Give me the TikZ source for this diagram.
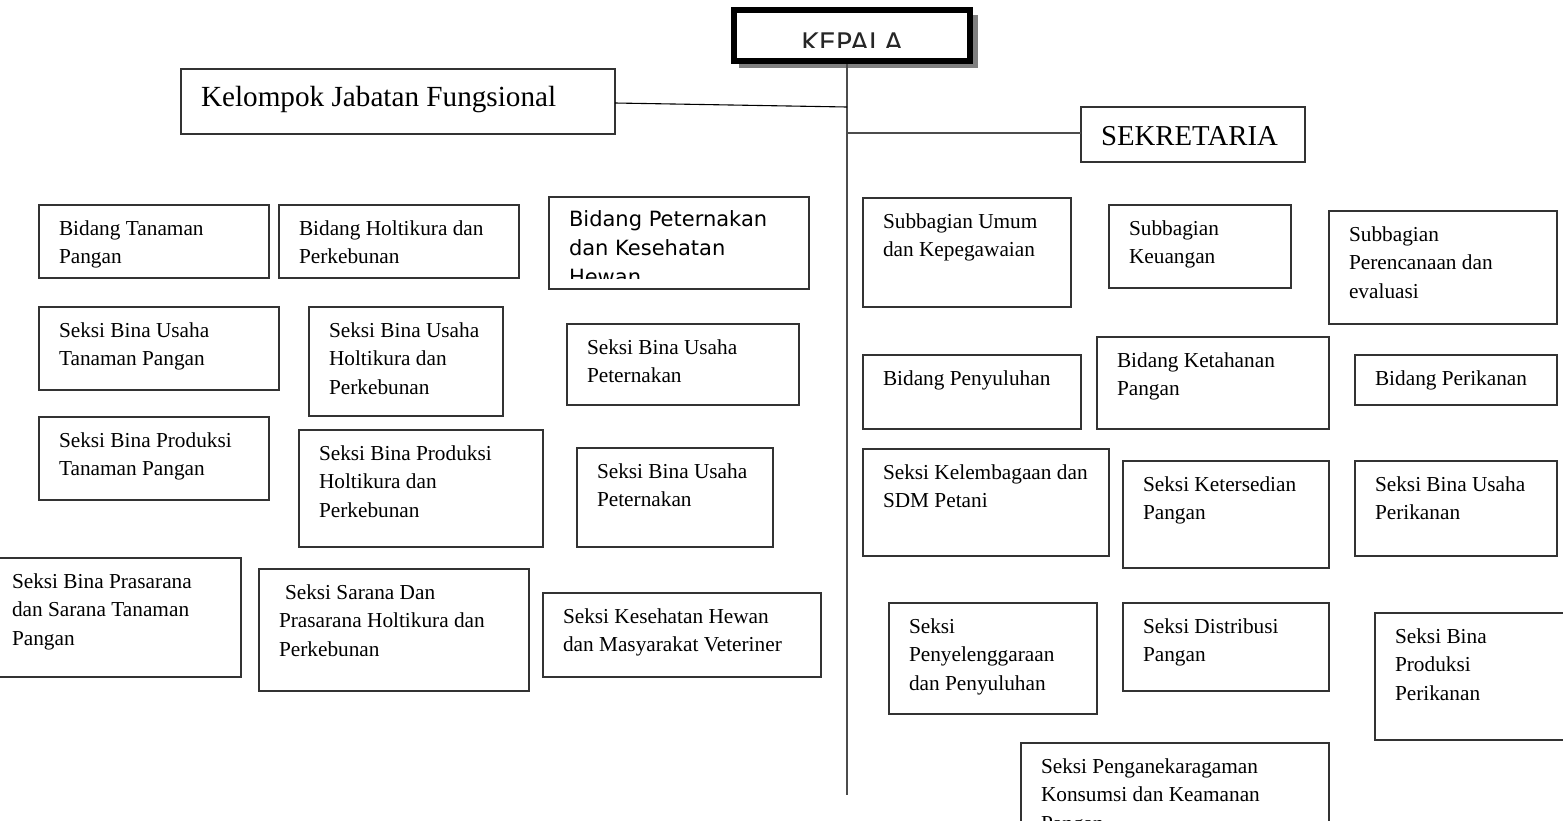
\documentclass[tikz,border=0pt]{standalone}
\usepackage{fontspec}
\setmainfont{Liberation Serif}
\newfontfamily\dvs{DejaVu Sans}
\tikzset{
  box/.style={draw=black!80, line width=0.55pt, rectangle, anchor=north west, inner sep=0pt, outer sep=0pt},
  txt/.style={anchor=base west, inner sep=0pt, outer sep=0pt, font=\fontsize{10.65}{14.25}\selectfont},
  conn/.style={draw=black!70, line width=0.55pt},
}
\newcommand\bx[6]{%
  \node[box, minimum width={(#4-#2)*0.5pt}, minimum height={(#5-#3)*0.5pt}] (#1) at (#2,#3) {};
  \node[txt] (#1t) at (#2+20,#3+30) {\begin{tabular}[t]{@{}l@{}}#6\end{tabular}};}
\begin{document}
\begin{tikzpicture}[x=0.5pt,y=-0.5pt]
\useasboundingbox (0,0) rectangle (1563,820);
\clip (0,0) rectangle (1563,820);
% KEPALA
\fill[black!50] (739,15) rectangle (978,68);
\draw[line width=3.3pt, fill=white] (734,10) rectangle (970,61);
\node[inner sep=0pt, outer sep=0pt, minimum width=118pt, minimum height=25pt] (kepala) at (852,35.5) {};
\begin{scope}
\clip (738,14) rectangle (966,47);
\node[inner sep=0pt, anchor=base, font=\dvs\fontsize{13.5}{16}\selectfont, text=black!85] (kepalat) at (852,52) {KEPALA};
\end{scope}
\coordinate (top) at (847,64);
\coordinate (bot) at (847,795);
\coordinate (j1) at (847,107);
\coordinate (j2) at (847,133);
\draw[conn] (top) -- (bot);
% Kelompok & Sekretaria
\node[box, minimum width={(615-181)*0.5pt}, minimum height={(134-69)*0.5pt}] (kel) at (181,69) {};
\node[txt, font=\fontsize{14.6}{17}\selectfont] (kelt) at (201,106) {Kelompok Jabatan Fungsional};
\node[box, minimum width={(1305-1081)*0.5pt}, minimum height={(162-107)*0.5pt}] (sek) at (1081,107) {};
\node[txt, font=\fontsize{14.4}{17}\selectfont] (sekt) at (1101,145) {SEKRETARIA};
\draw[conn, draw=black] ([yshift=-0.75pt]kel.east) -- (j1);
\draw[conn] (j2) -- (sek.west |- j2);
% left side
\bx{b1}{39}{205}{269}{278}{Bidang Tanaman\\Pangan}
\bx{b2}{279}{205}{519}{278}{Bidang Holtikura dan\\Perkebunan}
\node[box, minimum width={(809-549)*0.5pt}, minimum height={(289-197)*0.5pt}] (b3) at (549,197) {};
\begin{scope}
\clip (549,197) rectangle (809,278);
\node[txt, font=\dvs\fontsize{10.5}{14.5}\selectfont] (b3t) at (569,226) {\begin{tabular}[t]{@{}l@{}}Bidang Peternakan\\dan Kesehatan\\Hewan\end{tabular}};
\end{scope}
\bx{s1}{39}{307}{279}{390}{Seksi Bina Usaha\\Tanaman Pangan}
\bx{s2}{309}{307}{503}{416}{Seksi Bina Usaha\\Holtikura dan\\Perkebunan}
\bx{s3}{567}{324}{799}{405}{Seksi Bina Usaha\\Peternakan}
\bx{s4}{39}{417}{269}{500}{Seksi Bina Produksi\\Tanaman Pangan}
\bx{s5}{299}{430}{543}{547}{Seksi Bina Produksi\\Holtikura dan\\Perkebunan}
\bx{s6}{577}{448}{773}{547}{Seksi Bina Usaha\\Peternakan}
\node[box, minimum width={(241+4)*0.5pt}, minimum height={(677-558)*0.5pt}] (s7) at (-4,558) {};
\node[txt] (s7t) at (12,588) {\begin{tabular}[t]{@{}l@{}}Seksi Bina Prasarana\\dan Sarana Tanaman\\Pangan\end{tabular}};
\bx{s8}{259}{569}{529}{691}{\hspace{3pt}Seksi Sarana Dan\\Prasarana Holtikura dan\\Perkebunan}
\bx{s9}{543}{593}{821}{677}{Seksi Kesehatan Hewan\\dan Masyarakat Veteriner}
% right side
\bx{r1}{863}{198}{1071}{307}{Subbagian Umum\\dan Kepegawaian}
\bx{r2}{1109}{205}{1291}{288}{Subbagian\\Keuangan}
\bx{r3}{1329}{211}{1557}{324}{Subbagian\\Perencanaan dan\\evaluasi}
\bx{r4}{863}{355}{1081}{429}{Bidang Penyuluhan}
\bx{r5}{1097}{337}{1329}{429}{Bidang Ketahanan\\Pangan}
\bx{r6}{1355}{355}{1557}{405}{Bidang Perikanan}
\bx{r7}{863}{449}{1109}{556}{Seksi Kelembagaan dan\\SDM Petani}
\bx{r8}{1123}{461}{1329}{568}{Seksi Ketersedian\\Pangan}
\bx{r9}{1355}{461}{1557}{556}{Seksi Bina Usaha\\Perikanan}
\bx{r10}{889}{603}{1097}{714}{Seksi\\Penyelenggaraan\\dan Penyuluhan}
\bx{r11}{1123}{603}{1329}{691}{Seksi Distribusi\\Pangan}
\bx{r12}{1375}{613}{1570}{740}{Seksi Bina\\Produksi\\Perikanan}
\bx{r13}{1021}{743}{1329}{850}{Seksi Penganekaragaman\\Konsumsi dan Keamanan\\Pangan}
\end{tikzpicture}
\end{document}
